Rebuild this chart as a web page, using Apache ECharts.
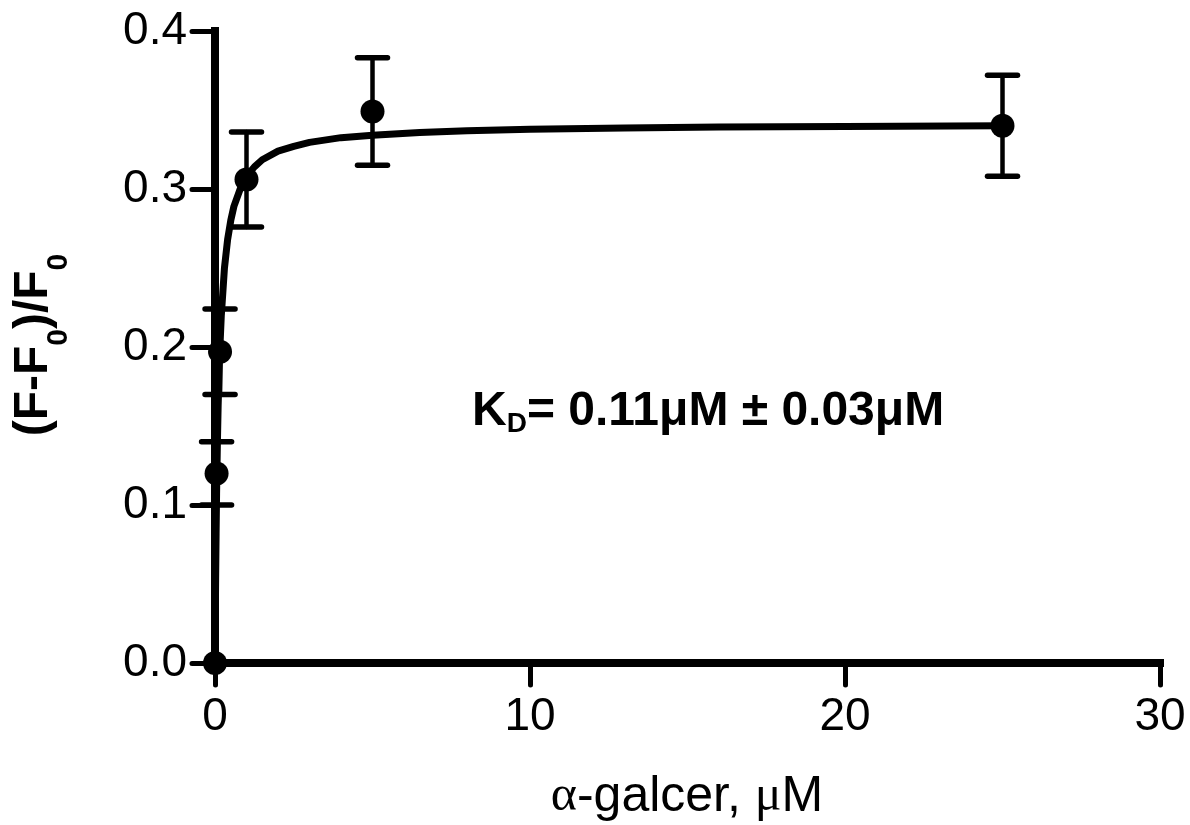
<!DOCTYPE html>
<html>
<head>
<meta charset="utf-8">
<script src="https://cdn.jsdelivr.net/npm/echarts@6/dist/echarts.min.js"></script>
<style>
html,body{margin:0;padding:0;background:#fff;}
#chart{width:1190px;height:825px;}
</style>
</head>
<body>
<div id="chart"></div>
<script>
// ---- data ----
const concX = [0, 0.05, 0.16, 1, 5, 25];               // α-galcer, μM
const respY = [0, 0.120, 0.197, 0.306, 0.349, 0.340];  // (F-F0)/F0
const respErr = [0, 0.020, 0.027, 0.030, 0.034, 0.032];
// fitted curve, points
const fitX = [0, 0.01, 0.02, 0.035, 0.05, 0.075, 0.1, 0.15, 0.2, 0.3, 0.4, 0.5, 0.6, 0.8, 1, 1.25, 1.5, 2, 2.5, 3, 4, 5, 6.5, 8, 10, 13, 16, 20, 25];
const fitY = [0, 0.029, 0.053, 0.082, 0.107, 0.138, 0.163, 0.197, 0.220, 0.250, 0.268, 0.280, 0.289, 0.300, 0.308, 0.314, 0.3185, 0.324, 0.327, 0.3295, 0.3325, 0.334, 0.3358, 0.3369, 0.3378, 0.3386, 0.3392, 0.3396, 0.340];
const xTicks = [0, 10, 20, 30];
const yTicks = [0.0, 0.1, 0.2, 0.3, 0.4];
const annotation = 'KD= 0.11μM ± 0.03μM';

const chart = echarts.init(document.getElementById('chart'), null, {renderer: 'canvas'});

const pointData = concX.map((x, i) => [x, respY[i]]);
const errData = concX.map((x, i) => [x, respY[i] - respErr[i], respY[i] + respErr[i], respErr[i]]);
const fitData = fitX.map((x, i) => [x, fitY[i]]);

const FONT = '"Liberation Sans", Arial, Helvetica, sans-serif';
const SERIF = '"Liberation Serif", "Times New Roman", serif';

chart.setOption({
  animation: false,
  backgroundColor: '#fff',
  grid: {left: 215, right: 30, top: 31, bottom: 162, containLabel: false},
  xAxis: {
    type: 'value', min: xTicks[0], max: xTicks[xTicks.length - 1], interval: 10,
    axisLine: {show: true, onZero: false, lineStyle: {color: '#000', width: 8, cap: 'square'}},
    axisTick: {show: true, length: 22, lineStyle: {color: '#000', width: 5, cap: 'round'}},
    axisLabel: {color: '#000', fontFamily: FONT, fontSize: 46, margin: 31,
      formatter: v => String(v)},
    splitLine: {show: false}
  },
  yAxis: {
    type: 'value', min: yTicks[0], max: yTicks[yTicks.length - 1], interval: 0.1,
    axisLine: {show: true, onZero: false, lineStyle: {color: '#000', width: 8, cap: 'square'}},
    axisTick: {show: true, length: 23, lineStyle: {color: '#000', width: 5, cap: 'round'}},
    axisLabel: {color: '#000', fontFamily: FONT, fontSize: 46, margin: 28,
      formatter: v => v.toFixed(1)},
    splitLine: {show: false}
  },
  graphic: [
    {
      type: 'text', x: 34, y: 345, rotation: Math.PI / 2,
      style: {
        text: '{m|(F-F}{s|0}{m|)/F}{s|0}',
        textAlign: 'center', textVerticalAlign: 'middle', fill: '#000',
        rich: {
          m: {fontFamily: FONT, fontWeight: 'bold', fontSize: 48, fill: '#000'},
          s: {fontFamily: FONT, fontWeight: 'bold', fontSize: 30, fill: '#000', padding: [50, 0, 0, 0]}
        }
      }
    },
    {
      type: 'text', x: 687, y: 797,
      style: {
        text: '{g|α}{m|-galcer, }{g|μ}{m|M}',
        textAlign: 'center', textVerticalAlign: 'middle', fill: '#000',
        rich: {
          m: {fontFamily: FONT, fontSize: 50, fill: '#000'},
          g: {fontFamily: SERIF, fontSize: 50, fill: '#000'}
        }
      }
    },
    {
      type: 'text', x: 472, y: 412,
      style: {
        text: '{m|K}{s|D}{m|' + annotation.slice(2) + '}',
        textAlign: 'left', textVerticalAlign: 'middle', fill: '#000',
        rich: {
          m: {fontFamily: FONT, fontWeight: 'bold', fontSize: 48, fill: '#000'},
          s: {fontFamily: FONT, fontWeight: 'bold', fontSize: 28, fill: '#000', padding: [24, 0, 0, 0]}
        }
      }
    }
  ],
  series: [
    {
      type: 'line', data: fitData, smooth: false, showSymbol: false, symbol: 'none',
      lineStyle: {color: '#000', width: 7, cap: 'round', join: 'round'},
      z: 3, clip: false
    },
    {
      type: 'custom', data: errData, z: 4, clip: false,
      renderItem: function (params, api) {
        const x = api.value(0), lo = api.value(1), hi = api.value(2), e = api.value(3);
        if (!e) return null;
        const a = api.coord([x, lo]), b = api.coord([x, hi]);
        const w = 15;
        const st = {stroke: '#000', lineWidth: 4.5, lineCap: 'round'};
        return {
          type: 'group', children: [
            {type: 'line', shape: {x1: a[0], y1: a[1], x2: b[0], y2: b[1]}, style: st},
            {type: 'line', shape: {x1: a[0] - w, y1: a[1], x2: a[0] + w, y2: a[1]}, style: {stroke: '#000', lineWidth: 5.5, lineCap: 'round'}},
            {type: 'line', shape: {x1: b[0] - w, y1: b[1], x2: b[0] + w, y2: b[1]}, style: {stroke: '#000', lineWidth: 5.5, lineCap: 'round'}}
          ]
        };
      }
    },
    {
      type: 'scatter', data: pointData, symbol: 'circle', symbolSize: 24,
      itemStyle: {color: '#000', opacity: 1}, z: 5, clip: false
    }
  ]
});
</script>
</body>
</html>
